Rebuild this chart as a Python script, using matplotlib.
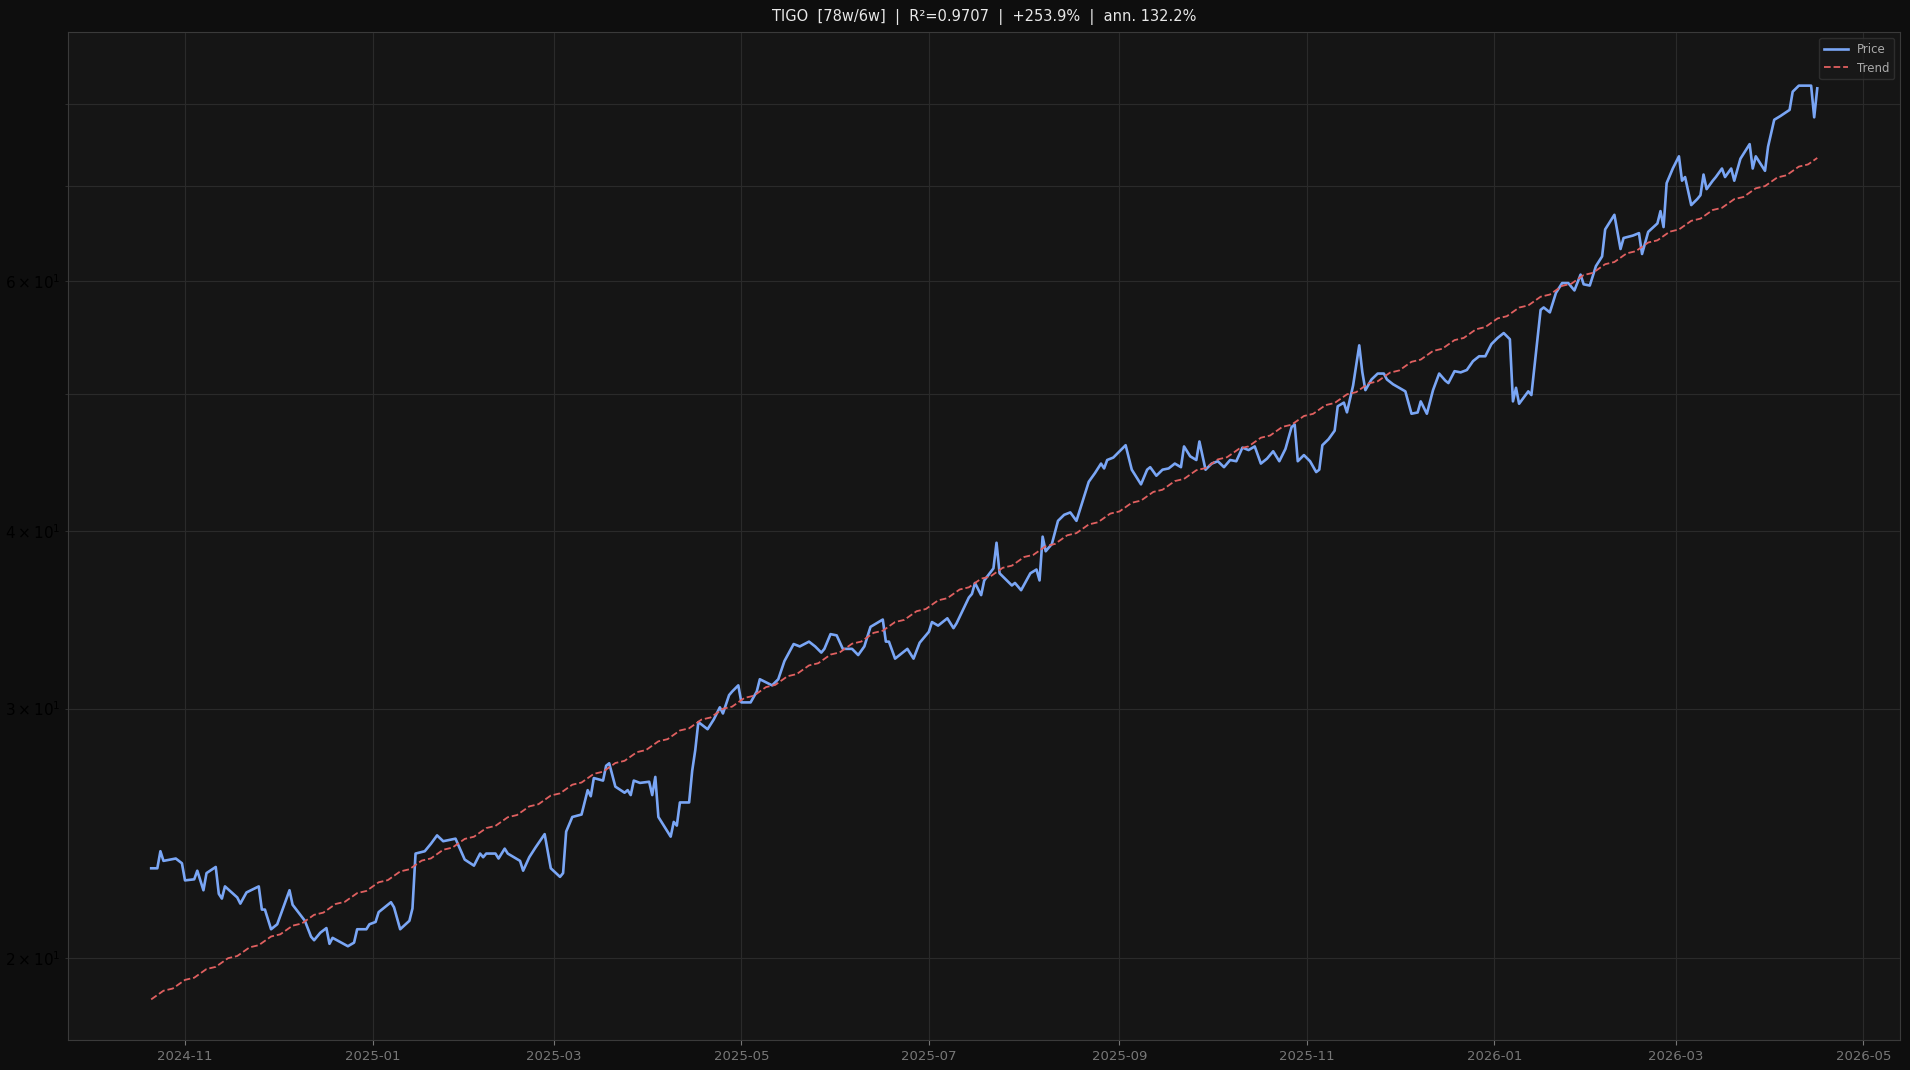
import numpy as np
import pandas as pd
import matplotlib
matplotlib.use("Agg")
import matplotlib.pyplot as plt
import matplotlib.dates as mdates

start = pd.Timestamp("2024-10-21")
day_offsets = [0,2,3,4,8,10,11,14,15,17,18,21,22,23,24,28,29,31,35,36,37,39,41,43,45,46,50,52,53,55,57,58,59,64,66,67,70,71,73,74,78,79,81,84,85,86,89,91,93,95,99,102,105,107,108,109,112,113,115,116,120,121,123,125,128,130,133,134,135,137,140,142,143,144,147,148,149,151,154,155,156,157,159,162,163,164,165,169,170,171,172,175,176,177,178,181,183,185,186,188,189,191,192,195,197,198,202,204,206,209,211,214,216,218,219,221,223,225,228,230,232,234,238,239,240,242,246,248,250,253,254,256,259,261,262,266,267,268,270,271,274,275,276,280,281,283,286,288,289,290,291,293,295,297,299,301,305,307,309,310,311,313,317,319,321,322,324,325,327,329,331,333,335,336,338,340,341,343,345,347,349,351,353,355,357,359,361,363,365,367,369,371,372,373,375,377,379,380,381,383,385,386,388,389,391,393,394,395,397,399,401,402,404,406,408,410,412,413,415,417,419,421,422,424,426,428,430,432,434,436,438,440,442,443,444,445,448,449,450,452,453,455,457,459,461,463,465,466,468,470,472,473,476,478,479,482,484,485,487,490,491,492,493,495,497,498,499,501,503,504,505,506,508,509,511,512,514,515,517,520,521,522,525,526,528,530,533,534,536,538,540,541,542]
prices = [23.15,23.15,23.80,23.43,23.52,23.34,22.70,22.74,23.06,22.34,22.97,23.20,22.21,22.04,22.48,22.08,21.86,22.26,22.48,21.65,21.65,20.97,21.14,21.73,22.34,21.82,21.26,20.72,20.60,20.85,21.01,20.48,20.68,20.40,20.52,20.97,20.97,21.14,21.22,21.56,21.91,21.73,20.97,21.26,21.69,23.71,23.80,24.09,24.42,24.19,24.29,23.48,23.25,23.71,23.57,23.71,23.71,23.52,23.90,23.71,23.43,23.06,23.57,23.94,24.47,23.15,22.83,22.97,24.57,25.16,25.26,26.28,26.02,26.80,26.69,27.34,27.45,26.43,26.17,26.28,26.07,26.69,26.59,26.64,26.07,26.85,25.16,24.37,24.96,24.81,25.76,25.76,27.12,28.05,29.35,29.01,29.47,30.06,29.76,30.66,30.84,31.15,30.30,30.30,30.84,31.46,31.15,31.46,32.40,33.31,33.18,33.44,33.18,32.85,33.05,33.85,33.78,33.05,33.05,32.72,33.18,34.25,34.66,33.44,33.44,32.53,33.05,32.53,33.38,33.98,34.52,34.32,34.73,34.18,34.45,35.92,36.13,36.78,36.06,36.93,37.66,39.26,37.36,36.63,36.78,36.35,37.36,37.59,36.93,39.65,38.72,39.18,40.68,41.08,41.24,40.68,43.34,43.95,44.64,44.29,44.90,45.08,45.99,44.20,43.51,43.16,44.20,44.38,43.77,44.20,44.29,44.64,44.38,45.90,45.17,44.90,46.27,44.20,44.64,44.81,44.38,44.90,44.81,45.81,45.63,45.90,44.64,45.00,45.54,44.81,45.72,47.37,47.56,44.81,45.26,44.81,44.03,44.20,45.99,46.44,47.09,48.99,49.28,48.51,50.67,54.08,51.78,50.29,51.17,51.66,51.66,51.17,50.77,50.48,50.19,48.40,48.50,49.38,48.40,50.29,51.66,51.07,50.87,51.86,51.76,51.96,52.71,53.13,53.13,54.19,54.73,55.17,54.62,49.38,50.48,49.19,50.19,49.89,52.27,57.28,57.51,57.05,58.89,59.83,59.83,59.12,60.66,59.71,59.59,61.50,62.47,65.27,66.84,63.23,64.37,64.62,64.88,62.72,65.01,65.91,67.24,65.52,70.36,72.05,73.49,70.64,71.06,67.90,68.58,69.00,71.35,69.68,70.64,71.06,72.05,71.06,72.05,70.64,73.20,74.96,72.05,73.49,71.78,74.66,77.98,78.45,79.24,81.61,82.42,82.42,82.42,78.29,82.06]
title = "TIGO  [78w/6w]  |  R²=0.9707  |  +253.9%  |  ann. 132.2%"

dates = start + pd.to_timedelta(day_offsets, unit="D")
p = np.array(prices)
# log-linear fit on trading-day index, drawn on every trading day
d0 = np.datetime64(start.date())
bidx = np.busday_count(d0, dates.values.astype("datetime64[D]"))
b, a = np.polyfit(bidx, np.log(p), 1)
tdays = pd.bdate_range(dates[0], dates[-1])
tidx = np.busday_count(d0, tdays.values.astype("datetime64[D]"))
trend = np.exp(a + b * tidx)

fig = plt.figure(figsize=(19.1, 10.7), dpi=100, facecolor="#0e0e0e")
ax = fig.add_axes([0.0357, 0.028, 0.9592, 0.942])
ax.set_facecolor("#151515")
ax.plot(dates, p, color="#7aa6f5", lw=1.9, label="Price")
ax.plot(tdays, trend, color="#e06060", lw=1.3, ls="--", label="Trend")
ax.set_yscale("log")
ax.set_ylim(17.52, 89.9)
ax.set_xlim(pd.Timestamp("2024-09-24"), pd.Timestamp("2026-05-13"))
ax.xaxis.set_major_locator(mdates.MonthLocator(bymonth=[1, 3, 5, 7, 9, 11]))
ax.xaxis.set_major_formatter(mdates.DateFormatter("%Y-%m"))
ax.grid(True, which="both", color="#2a2a2a", lw=0.8)
ax.tick_params(axis="x", colors="#777777", labelsize=9.5)
ax.tick_params(axis="y", which="both", colors="#333333", labelcolor="black", labelsize=11)
for s in ax.spines.values():
    s.set_color("#3a3a3a")
ax.set_title(title, color="#e8e8e8", fontsize=10.5, pad=8)
leg = ax.legend(loc="upper right", fontsize=8.5, facecolor="#1a1a1a", edgecolor="#333333", labelcolor="#aaaaaa")
fig.savefig("out.png", facecolor=fig.get_facecolor())
